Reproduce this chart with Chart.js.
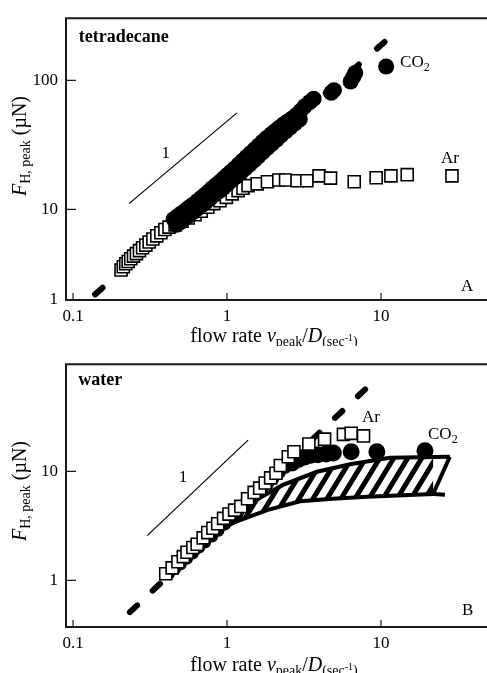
<!DOCTYPE html>
<html>
<head>
<meta charset="utf-8">
<title>Peak hydrodynamic force vs flow rate</title>
<script src="https://cdn.jsdelivr.net/npm/chart.js@4.4.1/dist/chart.umd.min.js"></script>
<style>
  html, body { margin: 0; padding: 0; background: #fff; overflow: hidden; }
  canvas { display: block; }
</style>
</head>
<body>
<canvas id="chart-a" width="487" height="346"></canvas>
<canvas id="chart-b" width="487" height="327"></canvas>
<script>
(function () {
  'use strict';

  // --- Data ---

  // shared flow-rate axis (sec^-1)
  const X_MIN = 0.09;
  const X_MAX = 48.8;
  const xTicks = [0.1, 1, 10];
  const xTickLabels = ['0.1', '1', '10'];

  // panel A: tetradecane
  const Y_MIN_A = 1.99;
  const Y_MAX_A = 303;
  // the printed figure labels its bottom edge "1"
  const yTicksA = [Y_MIN_A, 10, 100];
  const yTickLabelsA = ['1', '10', '100'];

  // CO2: upper edge of the band, lower edge of the band, then the sparse top end
  const co2FlowA = [0.45, 0.48, 0.51, 0.54, 0.57, 0.60, 0.64, 0.68, 0.72, 0.76, 0.80, 0.85, 0.90, 0.95, 1.0, 1.06,
    1.12, 1.19, 1.26, 1.34, 1.42, 1.51, 1.60, 1.70, 1.81, 1.93, 2.05, 2.18, 2.32, 2.47, 2.63, 2.8, 3.0, 3.2, 3.45, 3.65,
    0.47, 0.50, 0.53, 0.56, 0.60, 0.64, 0.68, 0.73, 0.78, 0.83, 0.89, 0.95, 1.01, 1.08, 1.15, 1.23, 1.31, 1.40,
    1.50, 1.60, 1.71, 1.83, 1.96, 2.10, 2.25, 2.41, 2.58, 2.77, 2.97,
    4.75, 4.95, 6.35, 6.6, 6.8, 10.8];
  const co2ForceA = [8.4, 8.9, 9.4, 9.9, 10.4, 10.9, 11.6, 12.3, 13.0, 13.8, 14.6, 15.5, 16.4, 17.4, 18.4, 19.6,
    20.8, 22.3, 23.8, 25.5, 27.3, 29.2, 31.2, 33.4, 35.8, 38.2, 40.5, 43.0, 45.5, 48.0, 50.5, 53.5, 58, 63, 68, 72,
    7.6, 8.0, 8.5, 8.9, 9.5, 10.1, 10.7, 11.4, 12.2, 13.0, 13.9, 14.8, 15.8, 16.9, 18.0, 19.3, 20.7, 22.3,
    24.0, 25.8, 27.8, 30.0, 32.3, 34.8, 37.5, 40.3, 43.3, 46.5, 50,
    80, 84, 98, 106, 114, 128];

  const arFlowA = [0.205, 0.212, 0.22, 0.228, 0.237, 0.247, 0.258, 0.27, 0.283, 0.297, 0.312, 0.33, 0.35, 0.372, 0.395, 0.42,
    0.46, 0.51, 0.56, 0.62, 0.68, 0.75, 0.82, 0.9, 0.99, 1.08, 1.18, 1.27, 1.37, 1.57, 1.83, 2.17, 2.4, 2.85, 3.3,
    3.96, 4.7, 6.7, 9.3, 11.6, 14.8, 28.9];
  const arForceA = [3.4, 3.6, 3.8, 3.95, 4.15, 4.35, 4.55, 4.8, 5.05, 5.3, 5.6, 5.9, 6.25, 6.6, 7.0, 7.3,
    7.6, 8.1, 8.6, 9.1, 9.7, 10.4, 11.1, 11.7, 12.4, 13.2, 14.0, 14.6, 15.3, 15.8, 16.4, 16.9, 16.9, 16.7, 16.7,
    18.2, 17.5, 16.4, 17.6, 18.2, 18.6, 18.2];

  const guideFlowA = [0.139, 10.9];
  const guideForceA = [2.2, 205];
  const slopeFlowA = [0.231, 1.16];
  const slopeForceA = [11.1, 56];

  // panel B: water
  const Y_MIN_B = 0.373;
  const Y_MAX_B = 96;
  const yTicksB = [1, 10];
  const yTickLabelsB = ['1', '10'];

  const co2FlowB = [0.42, 0.46, 0.5, 0.55, 0.6, 0.66, 0.72, 0.8, 0.88, 0.97, 1.07, 1.18, 1.3, 1.42, 1.55, 1.7, 1.85,
    2.0, 2.2, 2.4, 2.65, 2.9, 3.2, 3.5, 3.9, 4.4, 4.9, 6.4, 9.4, 19.3];
  const co2ForceB = [1.15, 1.27, 1.4, 1.58, 1.76, 2.0, 2.22, 2.52, 2.85, 3.25, 3.65, 4.15, 4.7, 5.3, 6.0, 6.8, 7.7,
    8.6, 9.7, 10.8, 11.9, 12.8, 13.5, 14.0, 14.2, 14.4, 14.7, 15.1, 15.1, 15.4];

  const arFlowB = [0.40, 0.44, 0.48, 0.52, 0.55, 0.60, 0.64, 0.70, 0.75, 0.81, 0.87, 0.95, 1.03, 1.12, 1.23, 1.36,
    1.50, 1.63, 1.77, 1.92, 2.08, 2.22, 2.5, 2.72, 3.4, 4.3, 5.7, 6.4, 7.7];
  const arForceB = [1.15, 1.3, 1.48, 1.65, 1.81, 2.0, 2.14, 2.45, 2.74, 3.0, 3.3, 3.7, 4.05, 4.4, 4.76, 5.6,
    6.4, 7.0, 7.8, 8.7, 9.6, 11.3, 13.6, 15.1, 17.8, 19.7, 21.8, 22.3, 21.1];

  const guideFlowB = [0.234, 8.24];
  const guideForceB = [0.51, 59.8];
  const slopeFlowB = [0.303, 1.37];
  const slopeForceB = [2.57, 19.3];

  // hatched band (model range)
  const bandTopFlow = [1.05, 1.41, 2.31, 3.84, 6.3, 11.4, 28];
  const bandTopForce = [3.5, 5.1, 7.5, 9.9, 11.6, 13.3, 13.6];
  const bandBottomFlow = [0.45, 0.67, 1.09, 1.82, 2.98, 4.88, 8.1, 21.8];
  const bandBottomForce = [1.35, 2.23, 3.36, 4.4, 5.3, 5.6, 5.85, 6.2];
  const bandEdgeFlow = [28, 21.8, 26];
  const bandEdgeForce = [13.6, 6.2, 6.1];

  // --- Helpers ---
  const SERIF = '"Liberation Serif", "Times New Roman", serif';
  Chart.defaults.font.family = SERIF;
  Chart.defaults.color = '#000';

  function pts(xs, ys) {
    return xs.map((x, i) => ({ x, y: ys[i] }));
  }

  function fontOf(p) {
    return (p[2] ? p[2] + ' ' : '') + p[1] + 'px ' + SERIF;
  }

  // draws a run of text pieces: [text, size, style, dy]
  function drawParts(ctx, parts, x, y, align) {
    let w = 0;
    parts.forEach((p) => { ctx.font = fontOf(p); w += ctx.measureText(p[0]).width; });
    let cx = align === 'center' ? x - w / 2 : x;
    parts.forEach((p) => {
      ctx.font = fontOf(p);
      ctx.fillText(p[0], cx, y + (p[3] || 0));
      cx += ctx.measureText(p[0]).width;
    });
  }

  function makeHatch() {
    const w = 14, h = 23;
    const c = document.createElement('canvas');
    c.width = w;
    c.height = h;
    const g = c.getContext('2d');
    g.strokeStyle = '#000';
    g.lineWidth = 5;
    [-w, 0, w].forEach((off) => {
      g.beginPath();
      g.moveTo(off - w * 0.5, h * 1.5);
      g.lineTo(off + w * 1.5, -h * 0.5);
      g.stroke();
    });
    return g.createPattern(c, 'repeat');
  }

  const xTitle = [['flow rate ', 20], ['v', 20, 'italic'], ['peak', 14, '', 4], ['/', 20], ['D', 20, 'italic'],
    ['(sec', 14, '', 4], ['-1', 10, '', -1], [')', 14, '', 4]];
  const yTitle = [['F', 20, 'italic'], ['H, peak', 14, '', 4], [' (\u00b5N)', 20]];

  // frame, inward ticks, annotations, axis titles
  const decor = {
    id: 'decor',
    afterDraw(chart, _args, opts) {
      const { ctx, chartArea: a } = chart;
      const x = chart.scales.x;
      const y = chart.scales.y;
      ctx.save();
      ctx.strokeStyle = '#1a1a1a';
      ctx.lineWidth = 2;
      ctx.beginPath();
      ctx.moveTo(a.right + 4, a.top);
      ctx.lineTo(a.left, a.top);
      ctx.lineTo(a.left, a.bottom);
      ctx.lineTo(a.right + 4, a.bottom);
      ctx.stroke();

      ctx.lineWidth = 1.2;
      ctx.beginPath();
      x.ticks.forEach((t) => {
        const px = x.getPixelForValue(t.value);
        ctx.moveTo(px, a.bottom);
        ctx.lineTo(px, a.bottom - 7);
      });
      y.ticks.forEach((t) => {
        const py = y.getPixelForValue(t.value);
        if (py > a.bottom - 2) return;
        ctx.moveTo(a.left, py);
        ctx.lineTo(a.left + 10, py);
      });
      ctx.stroke();

      ctx.fillStyle = '#000';
      ctx.textBaseline = 'alphabetic';
      opts.notes.forEach((n) => {
        drawParts(ctx, n.parts, x.getPixelForValue(n.x), y.getPixelForValue(n.y) + 6, n.align);
      });

      drawParts(ctx, xTitle, 274, opts.xTitleBase, 'center');
      ctx.translate(26, opts.yTitleMid);
      ctx.rotate(-Math.PI / 2);
      drawParts(ctx, yTitle, 0, 0, 'center');
      ctx.restore();
    },
  };

  function xAxis() {
    return {
      type: 'logarithmic',
      min: X_MIN,
      max: X_MAX,
      bounds: 'data',
      grid: { display: false, drawTicks: false },
      border: { display: false },
      afterBuildTicks: (s) => { s.ticks = xTicks.map((v) => ({ value: v })); },
      afterFit: (s) => { s.height = 46; },
      ticks: {
        autoSkip: false, maxRotation: 0, padding: 6,
        font: { size: 17 },
        callback: (_v, i) => xTickLabels[i],
      },
    };
  }

  function yAxis(min, max, tickValues, tickLabels) {
    return {
      type: 'logarithmic',
      min,
      max,
      bounds: 'data',
      grid: { display: false, drawTicks: false },
      border: { display: false },
      afterBuildTicks: (s) => { s.ticks = tickValues.map((v) => ({ value: v })); },
      afterFit: (s) => { s.width = 66; },
      ticks: {
        autoSkip: false, padding: 8,
        font: { size: 17 },
        callback: (_v, i) => tickLabels[i],
      },
    };
  }

  function guide(xs, ys, dash, order) {
    return {
      data: pts(xs, ys), showLine: true, pointRadius: 0,
      borderColor: '#000', borderWidth: 6, borderDash: dash, borderCapStyle: 'round',
      order,
    };
  }

  function slope(xs, ys, order) {
    return {
      data: pts(xs, ys), showLine: true, pointRadius: 0,
      borderColor: '#000', borderWidth: 1.2, order,
    };
  }

  function co2(xs, ys, radius, order) {
    return {
      data: pts(xs, ys), pointStyle: 'circle', pointRadius: radius,
      backgroundColor: '#000', borderColor: '#000', borderWidth: 0, order,
    };
  }

  function argon(xs, ys, order) {
    return {
      data: pts(xs, ys), pointStyle: 'rect', pointRadius: 8.5,
      backgroundColor: '#fff', borderColor: '#000', borderWidth: 1.6, order,
    };
  }

  function baseOptions(yScale, decorOpts) {
    return {
      responsive: false,
      animation: false,
      devicePixelRatio: 1,
      layout: { autoPadding: false, padding: { top: decorOpts.top, left: 0, right: 0, bottom: 0 } },
      scales: { x: xAxis(), y: yScale },
      plugins: { legend: { display: false }, tooltip: { enabled: false }, decor: decorOpts },
    };
  }

  // --- Panel A ---
  new Chart(document.getElementById('chart-a'), {
    type: 'scatter',
    data: {
      datasets: [
        slope(slopeFlowA, slopeForceA, 0),
        co2(co2FlowA, co2ForceA, 8, 1),
        argon(arFlowA, arForceA, 2),
        guide(guideFlowA, guideForceA, [10, 24], 3),
      ],
    },
    options: baseOptions(yAxis(Y_MIN_A, Y_MAX_A, yTicksA, yTickLabelsA), {
      top: 14,
      xTitleBase: 342,
      yTitleMid: 146,
      notes: [
        { parts: [['tetradecane', 18, 'bold']], x: 0.109, y: 221 },
        { parts: [['CO', 17], ['2', 12, '', 4]], x: 13.3, y: 142 },
        { parts: [['Ar', 17]], x: 24.5, y: 25.4 },
        { parts: [['A', 17]], x: 33.1, y: 2.58 },
        { parts: [['1', 17]], x: 0.40, y: 27.7, align: 'center' },
      ],
    }),
    plugins: [decor],
  });

  // --- Panel B ---
  const hatch = makeHatch();
  new Chart(document.getElementById('chart-b'), {
    type: 'scatter',
    data: {
      datasets: [
        slope(slopeFlowB, slopeForceB, 0),
        argon(arFlowB, arForceB, 1),
        co2(co2FlowB, co2ForceB, (c) => (c.raw && c.raw.x > 2.5 ? 8.5 : 6), 2),
        {
          data: pts(bandTopFlow, bandTopForce), showLine: true, pointRadius: 0,
          borderColor: '#000', borderWidth: 4, fill: '+1', backgroundColor: hatch, order: 3,
        },
        {
          data: pts(bandBottomFlow, bandBottomForce), showLine: true, pointRadius: 0,
          borderColor: '#000', borderWidth: 4, order: 4,
        },
        {
          data: pts(bandEdgeFlow, bandEdgeForce), showLine: true, pointRadius: 0,
          borderColor: '#000', borderWidth: 4, order: 4,
        },
        guide(guideFlowB, guideForceB, [10, 21.4], 5),
      ],
    },
    options: baseOptions(yAxis(Y_MIN_B, Y_MAX_B, yTicksB, yTickLabelsB), {
      top: 11,
      xTitleBase: 325,
      yTitleMid: 145,
      notes: [
        { parts: [['water', 18, 'bold']], x: 0.108, y: 70.5 },
        { parts: [['Ar', 17]], x: 7.53, y: 32.3 },
        { parts: [['CO', 17], ['2', 12, '', 4]], x: 20.2, y: 22.3 },
        { parts: [['B', 17]], x: 33.6, y: 0.54 },
        { parts: [['1', 17]], x: 0.518, y: 9.0, align: 'center' },
      ],
    }),
    plugins: [decor],
  });
})();
</script>
</body>
</html>
